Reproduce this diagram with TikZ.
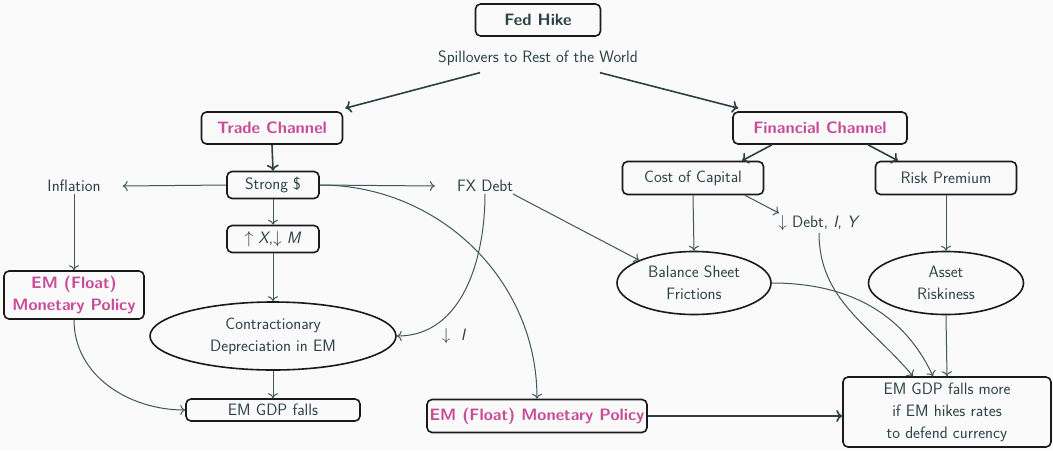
\documentclass[tikz,border=0pt]{standalone}
\usepackage{fontspec}
\usetikzlibrary{shapes.geometric,arrows.meta}
\definecolor{bg}{HTML}{FAFAFA}
\definecolor{txt}{HTML}{2C4246}
\definecolor{ln}{HTML}{3F565B}
\definecolor{thk}{HTML}{2B3F44}
\definecolor{pinkc}{HTML}{C94C98}
\definecolor{bord}{HTML}{1A1A1A}
\tikzset{
  box/.style={draw=bord, line width=1.6pt, rounded corners=5pt, align=center, inner sep=0pt},
  oval/.style={draw=bord, line width=1.6pt, ellipse, align=center, inner sep=0pt},
  plain/.style={align=center, inner sep=2pt},
  pinktext/.style={text=pinkc, font=\sffamily\bfseries\fontsize{16.5}{20}\selectfont},
  conn/.style={draw=ln, line width=1pt, -{To[length=5pt,width=10pt]}},
  thickconn/.style={draw=thk, line width=1.6pt, -{To[length=6pt,width=12pt]}},
}
\begin{document}
\begin{tikzpicture}[x=1pt,y=-1pt, every node/.style={text=txt, font=\sffamily\fontsize{16.5}{22}\selectfont}]
\fill[bg] (0,0) rectangle (1053,451);
\useasboundingbox (0,0) rectangle (1053,451);
% nodes
\node[box, minimum width=125, minimum height=32, font=\sffamily\bfseries\fontsize{16.5}{20}\selectfont] (fed) at (538,20) {Fed Hike};
\node[plain] (spill) at (538,58) {Spillovers to Rest of the World};
\node[box, pinktext, minimum width=141, minimum height=32] (trade) at (272,128) {Trade Channel};
\node[box, pinktext, minimum width=174, minimum height=32] (fin) at (820,128) {Financial Channel};
\node[box, minimum width=92, minimum height=27] (strong) at (273,185) {Strong \$};
\node[plain] (infl) at (74,186) {Inflation};
\node[plain] (fx) at (485,186) {FX Debt};
\node[box, minimum width=92, minimum height=27] (xm) at (273,239) {$\uparrow$ \textit{X},$\downarrow$ \textit{M}};
\node[box, pinktext, minimum width=140, minimum height=48, font=\sffamily\bfseries\fontsize{16.5}{22}\selectfont] (emmpa) at (74,295) {EM (Float)\\Monetary Policy};
\node[oval, minimum width=246, minimum height=68] (contr) at (273,336) {Contractionary\\Depreciation in EM};
\node[box, minimum width=174, minimum height=22] (gdp) at (273,410) {EM GDP falls};
\node[box, pinktext, minimum width=220, minimum height=33] (emmpb) at (537,416) {EM (Float) Monetary Policy};
\node[box, minimum width=141, minimum height=33] (coc) at (693,178) {Cost of Capital};
\node[box, minimum width=141, minimum height=33] (rp) at (946,178) {Risk Premium};
\node[plain] (debt) at (819,223) {$\downarrow$ Debt, \textit{I}, \textit{Y}};
\node[plain] (il) at (454,336) {$\downarrow$ \ \textit{I}};
\node[oval, minimum width=154, minimum height=63] (bsf) at (694,283) {Balance Sheet\\Frictions};
\node[oval, minimum width=155, minimum height=63] (ar) at (946,283) {Asset\\Riskiness};
\node[box, minimum width=208, minimum height=70, font=\sffamily\fontsize{16.5}{22}\selectfont] (more) at (947,412) {EM GDP falls more\\if EM hikes rates\\to defend currency};
% connectors
\draw[thickconn] ([shift={(-58,5)}]spill.south) -- ([shift={(2,-3)}]trade.north east);
\draw[thickconn] ([shift={(62,5)}]spill.south) -- ([shift={(6,-3)}]fin.north west);
\draw[thickconn] (trade.south) -- (strong.north);
\draw[conn] (strong.west) -- ([xshift=20]infl.east);
\draw[conn] (strong.east) -- ([xshift=-20]fx.west);
\draw[conn] (strong.south) -- (xm.north);
\draw[conn] (strong.east) to[out=0,in=90] (emmpb.north);
\draw[conn] (fx.south) to[out=-90,in=0] (contr.east);
\draw[conn] ([xshift=28]fx.south) -- (bsf.north west);
\draw[conn] (infl.south) -- (emmpa.north);
\draw[conn] (emmpa.south) to[out=-90,in=180] (gdp.west);
\draw[conn] (xm.south) -- (contr.north);
\draw[conn] (contr.south) -- (gdp.north);
\draw[thickconn] (emmpb.east) -- (emmpb.east -| more.west);
\draw[thickconn] ([xshift=-48]fin.south) -- ([xshift=49]coc.north);
\draw[thickconn] ([xshift=48]fin.south) -- ([xshift=-48]rp.north);
\draw[conn] ([xshift=52]coc.south) -- ([xshift=-40]debt.north);
\draw[conn] (coc.south) -- (bsf.north);
\draw[conn] (rp.south) -- (ar.north);
\draw[conn] (debt.south) to[out=-90,in=130] ([xshift=-34]more.north);
\draw[conn] (bsf.east) to[out=0,in=115] ([xshift=-14]more.north);
\draw[conn] (ar.south) -- (more.north);
\end{tikzpicture}
\end{document}
